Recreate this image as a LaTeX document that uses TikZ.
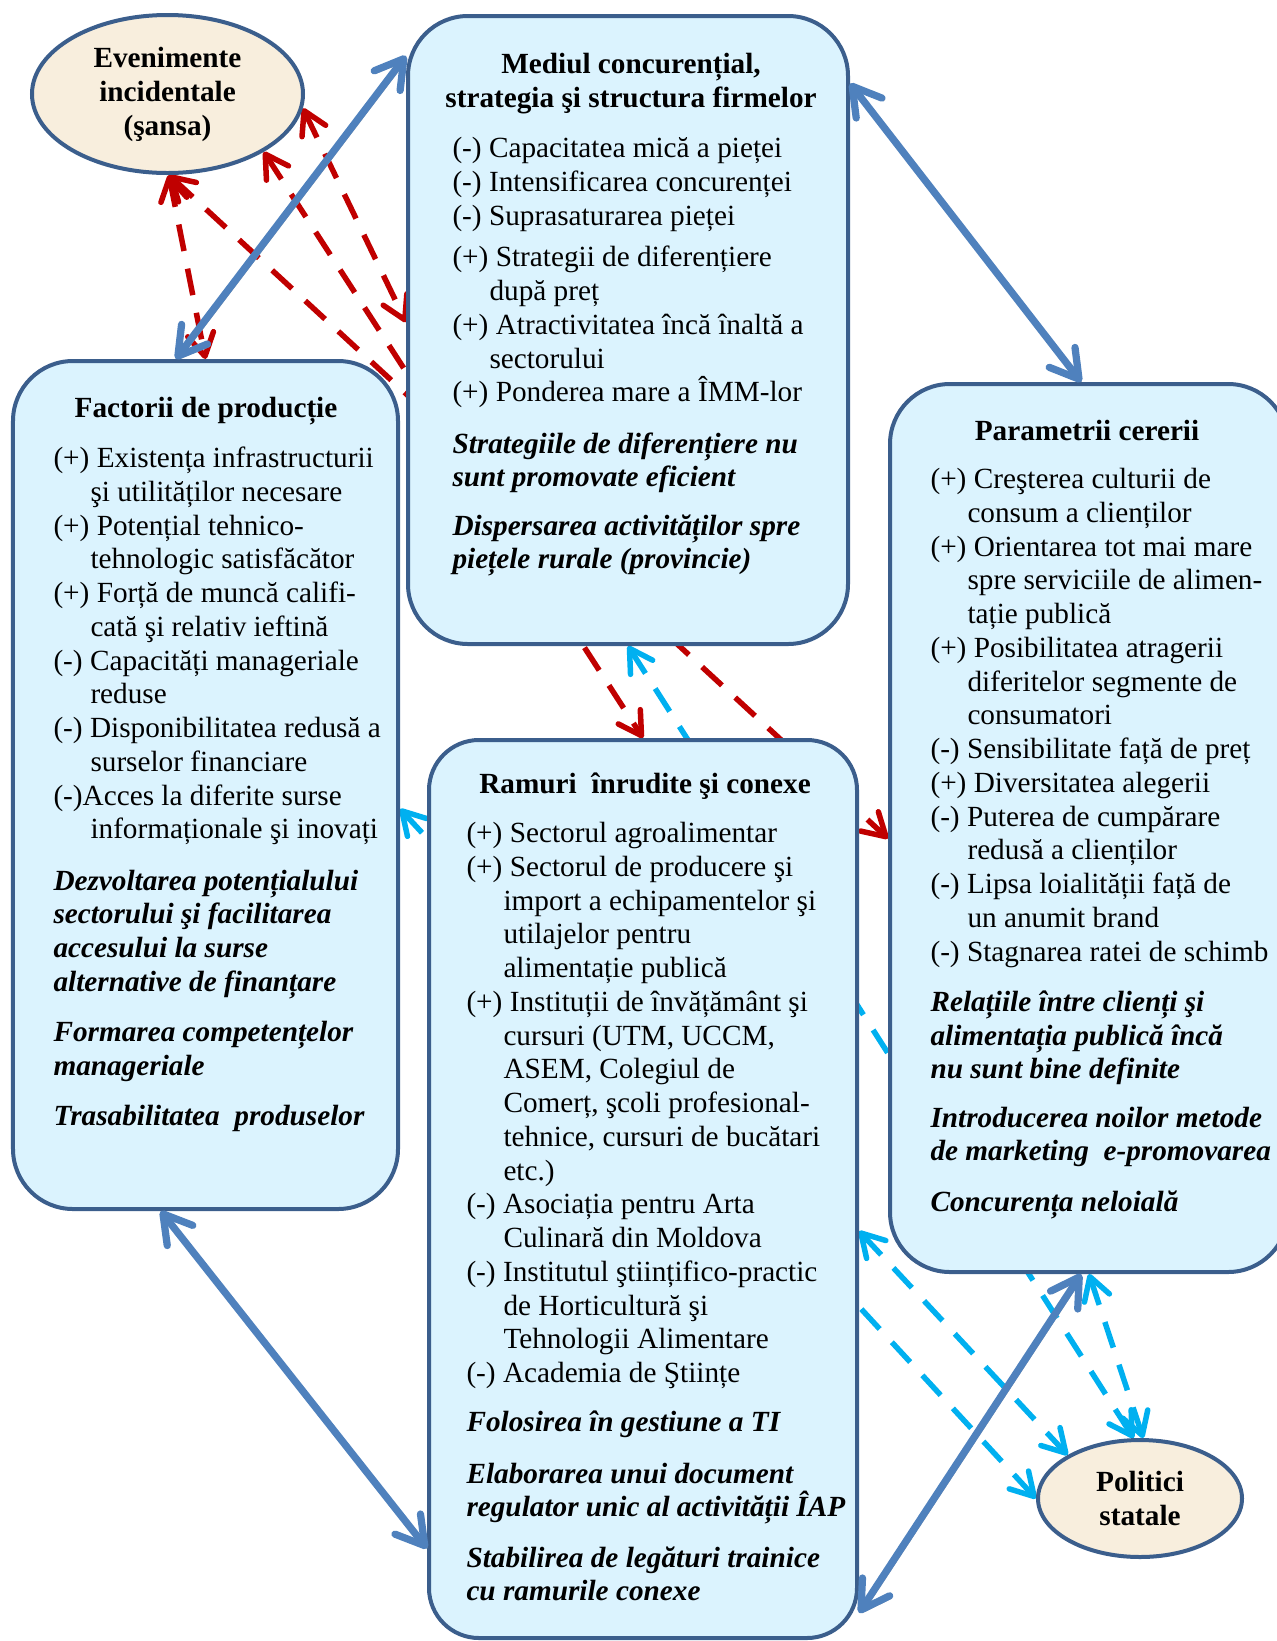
\documentclass[tikz,border=0pt]{standalone}
\usepackage{fontspec}
\setmainfont{Liberation Serif}
\usetikzlibrary{arrows.meta,shapes.geometric,backgrounds}
\definecolor{boxfill}{HTML}{DBF3FE}
\definecolor{boxline}{HTML}{3B5E8C}
\definecolor{ovalfill}{HTML}{F8EEDD}
\definecolor{arrowblue}{HTML}{4F81BD}
\definecolor{shadowgray}{HTML}{A6A6A6}
\definecolor{dashred}{HTML}{C00000}
\definecolor{dashcyan}{HTML}{00B0F0}
\newcommand{\contind}{\hspace*{14.8pt}}
\newcommand{\mybi}[1]{\textbf{\textit{#1}}}
\begin{document}
\begin{tikzpicture}[x=0.4pt,y=-0.4pt,
    factor/.style={draw=boxline,fill=boxfill,line width=1.6pt,rounded corners=24pt,inner sep=0pt},
    oval/.style={ellipse,draw=boxline,fill=ovalfill,line width=1.6pt,inner sep=0pt,align=center,
      font=\fontsize{11.7}{13.6}\selectfont\bfseries},
    head/.style={anchor=north,align=center,inner sep=0pt,font=\fontsize{11.7}{13.5}\selectfont\bfseries},
    body/.style={anchor=north west,align=left,inner sep=0pt,font=\fontsize{11.7}{13.5}\selectfont},
    link/.style={draw=arrowblue,line width=2.9pt,
      {Straight Barb[length=11pt,width=13pt,round]}-{Straight Barb[length=11pt,width=13pt,round]},
      preaction={draw=shadowgray,transform canvas={xshift=0.9pt,yshift=-0.9pt}}},
    redlink/.style={draw=dashred,line width=2.2pt,dash pattern=on 10.8pt off 7.2pt,
      {Straight Barb[length=9pt,width=10.5pt,round]}-{Straight Barb[length=9pt,width=10.5pt,round]}},
    cyanlink/.style={redlink,draw=dashcyan}]
  \useasboundingbox (0,0) rectangle (1277,1641);

  \node[oval,minimum width=108.4pt,minimum height=63.2pt] (evenimente) at (167.5,94) {Evenimente\\incidentale\\(şansa)};
  \node[oval,minimum width=81.6pt,minimum height=46.8pt] (politici) at (1140,1498.5) {Politici\\statale};

  \node[factor,minimum width=176pt,minimum height=251.2pt] (mediul) at (628,330) {};
  \node[factor,minimum width=154pt,minimum height=339.2pt] (factorii) at (205.5,785) {};
  \node[factor,minimum width=159.2pt,minimum height=355.2pt] (parametrii) at (1089,828) {};
  \node[factor,minimum width=171.2pt,minimum height=359.2pt,rounded corners=20pt] (ramuri) at (643,1189) {};

  \node[head] (mediulhead) at (631,49.4) {\strut Mediul concurențial,\\strategia şi structura firmelor};
  \node[body] (mediultxt) at (452,133.4) {\strut(-) Capacitatea mică a pieței\\
    (-) Intensificarea concurenței\\
    (-) Suprasaturarea pieței\\[3.2pt]
    (+) Strategii de diferențiere\\
    \contind după preț\\
    (+) Atractivitatea încă înaltă a\\
    \contind sectorului\\
    (+) Ponderea mare a ÎMM-lor\\[7pt]
    \mybi{Strategiile de diferențiere nu}\\
    \mybi{sunt promovate eficient}\\[5.8pt]
    \mybi{Dispersarea activităților spre}\\
    \mybi{piețele rurale (provincie)}};

  \node[head] (factoriihead) at (206,393.4) {\strut Factorii de producție};
  \node[body] (factoriitxt) at (53,443.4) {\strut(+) Existența infrastructurii\\
    \contind şi utilităților necesare\\
    (+) Potențial tehnico-\\
    \contind tehnologic satisfăcător\\
    (+) Forță de muncă califi-\\
    \contind cată şi relativ ieftină\\
    (-) Capacități manageriale\\
    \contind reduse\\
    (-) Disponibilitatea redusă a\\
    \contind surselor financiare\\
    (-)Acces la diferite surse\\
    \contind informaționale şi inovați\\[7pt]
    \mybi{Dezvoltarea potențialului}\\
    \mybi{sectorului şi facilitarea}\\
    \mybi{accesului la surse}\\
    \mybi{alternative de finanțare}\\[6.6pt]
    \mybi{Formarea competențelor}\\
    \mybi{manageriale}\\[6.6pt]
    \mybi{Trasabilitatea\ \ produselor}};

  \node[head] (parametriihead) at (1087,416.4) {\strut Parametrii cererii};
  \node[body] (parametriitxt) at (930,464.4) {\strut(+) Creşterea culturii de\\
    \contind consum a clienților\\
    (+) Orientarea tot mai mare\\
    \contind spre serviciile de alimen-\\
    \contind tație publică\\
    (+) Posibilitatea atragerii\\
    \contind diferitelor segmente de\\
    \contind consumatori\\
    (-) Sensibilitate față de preț\\
    (+) Diversitatea alegerii\\
    (-) Puterea de cumpărare\\
    \contind redusă a clienților\\
    (-) Lipsa loialității față de\\
    \contind un anumit brand\\
    (-) Stagnarea ratei de schimb\\[6.6pt]
    \mybi{Relațiile între clienți şi}\\
    \mybi{alimentația publică încă}\\
    \mybi{nu sunt bine definite}\\[5.8pt]
    \mybi{Introducerea noilor metode}\\
    \mybi{de marketing\ \ e-promovarea}\\[6.6pt]
    \mybi{Concurența neloială}};

  \node[head] (ramurihead) at (645,769.4) {\strut Ramuri\ \ înrudite şi conexe};
  \node[body] (ramuritxt) at (466,818.4) {\strut(+) Sectorul agroalimentar\\
    (+) Sectorul de producere şi\\
    \contind import a echipamentelor şi\\
    \contind utilajelor pentru\\
    \contind alimentație publică\\
    (+) Instituții de învățământ şi\\
    \contind cursuri (UTM, UCCM,\\
    \contind ASEM, Colegiul de\\
    \contind Comerț, şcoli profesional-\\
    \contind tehnice, cursuri de bucătari\\
    \contind etc.)\\
    (-) Asociația pentru Arta\\
    \contind Culinară din Moldova\\
    (-) Institutul ştiințifico-practic\\
    \contind de Horticultură şi\\
    \contind Tehnologii Alimentare\\
    (-) Academia de Ştiințe\\[6.2pt]
    \mybi{Folosirea în gestiune a TI}\\[7pt]
    \mybi{Elaborarea unui document}\\
    \mybi{regulator unic al activității ÎAP}\\[6.6pt]
    \mybi{Stabilirea de legături trainice}\\
    \mybi{cu ramurile conexe}};

  \begin{scope}[on background layer]
    \draw[redlink] (evenimente.271) -- (factorii.north);
    \draw[redlink] (evenimente.271) -- (parametrii.183.4);
    \draw[redlink] (evenimente.329) -- (ramuri.north);
    \draw[redlink] (evenimente.354.5) -- (mediul.178);
    \draw[cyanlink] (mediul.270.9) -- (politici.96);
    \draw[cyanlink] (parametrii.270.4) -- (politici.87);
    \draw[cyanlink] (ramuri.349.7) -- (politici.149.5);
    \draw[cyanlink] (factorii.353.2) -- (politici.west);
  \end{scope}

  \draw[link] (mediul.129.5) -- (factorii.94.1);
  \draw[link] (mediul.48.2) -- (parametrii.91.2);
  \draw[link] (factorii.264.8) -- (ramuri.239.2);
  \draw[link] (parametrii.269.7) -- (ramuri.297.7);
\end{tikzpicture}
\end{document}
